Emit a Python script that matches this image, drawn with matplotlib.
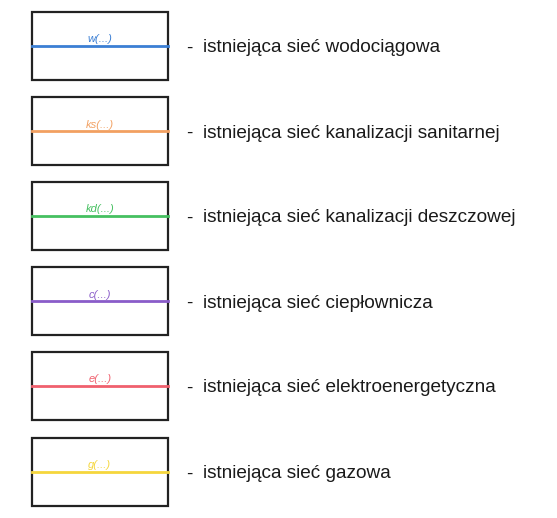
import matplotlib
matplotlib.use('Agg')
import matplotlib.pyplot as plt
from matplotlib.patches import Rectangle

# legend entries
codes = ['w(...)', 'ks(...)', 'kd(...)', 'c(...)', 'e(...)', 'g(...)']
labels = ['istniejąca sieć wodociągowa',
          'istniejąca sieć kanalizacji sanitarnej',
          'istniejąca sieć kanalizacji deszczowej',
          'istniejąca sieć ciepłownicza',
          'istniejąca sieć elektroenergetyczna',
          'istniejąca sieć gazowa']
colors = ['#3b7fd4', '#f2a061', '#45c060', '#8a5cc9', '#f0606e', '#f5d63c']
box_top = [12, 97, 182, 267, 352, 438]

fig = plt.figure(figsize=(5.57, 5.18), dpi=100)
ax = fig.add_axes([0, 0, 1, 1])
ax.set_xlim(0, 557)
ax.set_ylim(518, 0)
ax.axis('off')

x0, x1 = 32, 168
h = 68
for code, lab, col, top in zip(codes, labels, colors, box_top):
    ax.add_patch(Rectangle((x0, top), x1 - x0, h, fill=False, ec='#222222', lw=1.6))
    ym = top + h / 2
    ax.plot([x0, x1], [ym, ym], color=col, lw=2)
    ax.text((x0 + x1) / 2, ym - 1.5, code, color=col, fontsize=8, style='italic',
            ha='center', va='bottom', family='Liberation Sans')
    ax.text(186, ym + 2, '-', fontsize=13.5, ha='left', va='center', family='Liberation Sans',
            color='#1a1a1a')
    ax.text(203, ym + 2, lab, fontsize=13.7, ha='left', va='center', family='Liberation Sans',
            color='#1a1a1a')

fig.savefig('out.png', dpi=100)
